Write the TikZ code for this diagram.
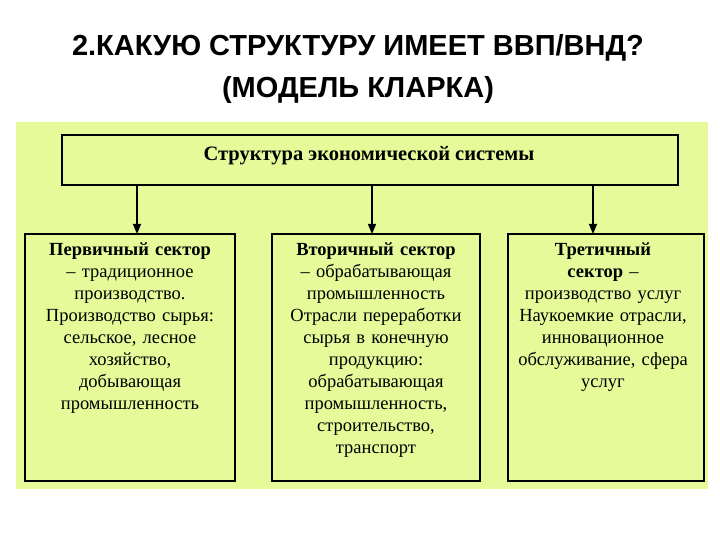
\documentclass[tikz,border=0pt]{standalone}
\usepackage{fontspec}
\usetikzlibrary{arrows.meta}
\setmainfont{Liberation Serif}
\newfontfamily\titlefont{Liberation Sans}
\definecolor{panel}{HTML}{E6FA99}
\begin{document}
\begin{tikzpicture}[x=1pt,y=-1pt,
  box/.style={draw=black,line width=1.3pt,fill=panel},
  txt/.style={align=center,font=\fontsize{18.5}{22}\selectfont,text width=205pt,inner sep=0pt},
  arr/.style={-{Triangle[length=10pt,width=8pt]},line width=1.3pt}]
\useasboundingbox (0,0) rectangle (720,540);
\fill[white] (0,0) rectangle (720,540);
\node[font=\titlefont\bfseries\fontsize{29}{42}\selectfont,align=center] (title) at (358,69) {2.КАКУЮ СТРУКТУРУ ИМЕЕТ ВВП/ВНД?\\(МОДЕЛЬ КЛАРКА)};
\fill[panel] (16,122) rectangle (708,489);
\draw[box] (62,135) rectangle (678,185);
\node[font=\bfseries\fontsize{20.5}{22}\selectfont] (top) at (369,156) {Структура экономической системы};
\draw[box] (25,234) rectangle (235,481);
\draw[box] (272,234) rectangle (480,481);
\draw[box] (508,234) rectangle (704,481);
\coordinate (a1) at (137,185); \coordinate (b1) at (137,234);
\coordinate (a2) at (372,185); \coordinate (b2) at (372,234);
\coordinate (a3) at (593,185); \coordinate (b3) at (593,234);
\draw[arr] (a1) -- (b1);
\draw[arr] (a2) -- (b2);
\draw[arr] (a3) -- (b3);
\node[txt,anchor=north] (p) at (130,243) {\textbf{Первичный сектор}\\ – традиционное\\ производство.\\ Производство сырья:\\ сельское, лесное\\ хозяйство,\\ добывающая\\ промышленность};
\node[txt,anchor=north] (s) at (376,243) {\textbf{Вторичный сектор}\\ – обрабатывающая\\ промышленность\\ Отрасли переработки\\ сырья в конечную\\ продукцию:\\ обрабатывающая\\ промышленность,\\ строительство,\\ транспорт};
\node[txt,anchor=north] (t) at (603,243) {\textbf{Третичный}\\ \textbf{сектор} –\\ производство услуг\\ Наукоемкие отрасли,\\ инновационное\\ обслуживание, сфера\\ услуг};
\end{tikzpicture}
\end{document}
